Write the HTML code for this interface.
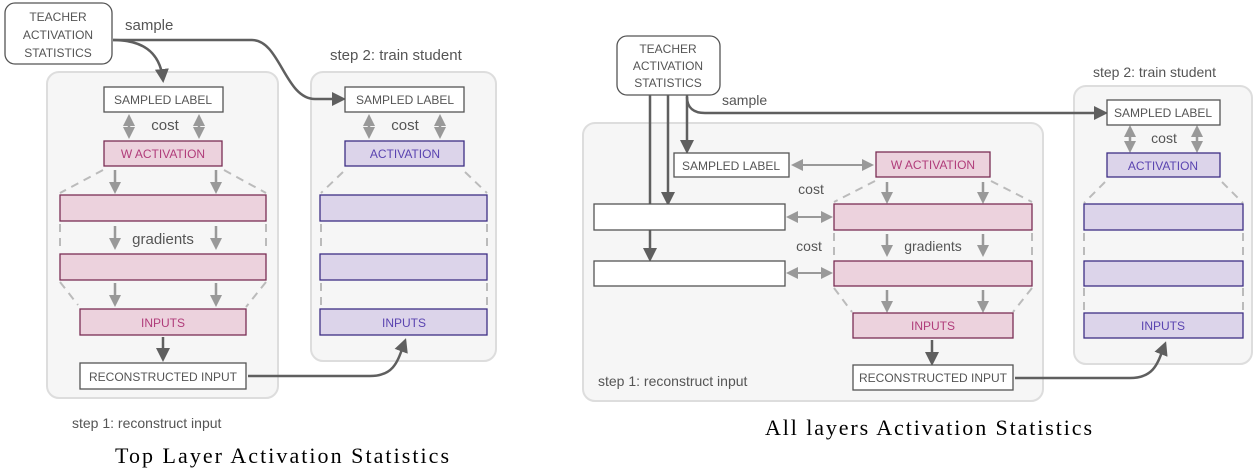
<!DOCTYPE html>
<html><head><meta charset="utf-8"><style>
html,body{margin:0;padding:0;background:#fff;}
svg{display:block;}
text{font-family:"Liberation Sans",sans-serif;}
</style></head><body>
<svg width="1253" height="469" viewBox="0 0 1253 469" xmlns="http://www.w3.org/2000/svg">
<defs>
<marker id="ad" markerWidth="14" markerHeight="14" refX="11" refY="7" orient="auto" markerUnits="userSpaceOnUse"><path d="M0,0 L14,7 L0,14 z" fill="#5f5f5f"/></marker>
<marker id="ag" markerWidth="12" markerHeight="12" refX="9" refY="6" orient="auto" markerUnits="userSpaceOnUse"><path d="M0,0 L12,6 L0,12 z" fill="#999"/></marker>
<marker id="ags" markerWidth="12" markerHeight="12" refX="3" refY="6" orient="auto" markerUnits="userSpaceOnUse"><path d="M12,0 L0,6 L12,12 z" fill="#999"/></marker>
</defs>
<g font-size="12" fill="#555">
<!-- LEFT -->
<rect x="47" y="72" width="231" height="326" rx="12" fill="#f6f6f6" stroke="#ddd" stroke-width="2"/>
<rect x="311" y="72" width="185" height="289" rx="12" fill="#f6f6f6" stroke="#ddd" stroke-width="2"/>
<rect x="5" y="3" width="107" height="61" rx="10" fill="#fff" stroke="#555" stroke-width="1.3"/>
<text x="58" y="21" text-anchor="middle">TEACHER</text>
<text x="58" y="39" text-anchor="middle">ACTIVATION</text>
<text x="58" y="57" text-anchor="middle">STATISTICS</text>
<text x="125" y="30" font-size="15">sample</text>
<text x="330" y="60" font-size="15">step 2: train student</text>
<path d="M113,40 C140,40 160,50 163,80" fill="none" stroke="#5f5f5f" stroke-width="2.5" marker-end="url(#ad)"/>
<path d="M113,40 L252,40 C280,40 285,99 315,99 L343,99" fill="none" stroke="#5f5f5f" stroke-width="2.5" marker-end="url(#ad)"/>
<rect x="104" y="87" width="119" height="25" fill="#fff" stroke="#555" stroke-width="1.3"/>
<text x="163" y="104" text-anchor="middle">SAMPLED LABEL</text>
<text x="165" y="130" text-anchor="middle" font-size="15">cost</text>
<g stroke="#999" stroke-width="2.5" fill="none">
<path d="M129,117 L129,136" marker-end="url(#ag)" marker-start="url(#ags)"/>
<path d="M199,117 L199,136" marker-end="url(#ag)" marker-start="url(#ags)"/>
<path d="M369,117 L369,136" marker-end="url(#ag)" marker-start="url(#ags)"/>
<path d="M440,117 L440,136" marker-end="url(#ag)" marker-start="url(#ags)"/>
<path d="M115,170 L115,191" marker-end="url(#ag)"/><path d="M216,170 L216,191" marker-end="url(#ag)"/>
<path d="M115,226 L115,247" marker-end="url(#ag)"/><path d="M216,226 L216,247" marker-end="url(#ag)"/>
<path d="M115,283 L115,304" marker-end="url(#ag)"/><path d="M216,283 L216,304" marker-end="url(#ag)"/>
</g>
<g stroke="#bbb" stroke-width="2" stroke-dasharray="8,6" fill="none">
<path d="M103,170 L60,193 M224,170 L266,193 M60,224 L60,252 M266,224 L266,252 M60,282 L78,305 M266,282 L246,307"/>
<path d="M343,172 L321,193 M465,172 L487,193 M321,224 L321,252 M487,224 L487,252 M321,283 L321,307 M487,283 L487,307"/>
</g>
<rect x="104" y="141" width="118" height="25" fill="#ecd2dd" stroke="#7a2e55" stroke-width="1.3"/>
<text x="163" y="158" text-anchor="middle" fill="#b03c7a">W ACTIVATION</text>
<rect x="60" y="195" width="206" height="26" fill="#ecd2dd" stroke="#7a2e55" stroke-width="1.3"/>
<text x="163" y="244" text-anchor="middle" font-size="15">gradients</text>
<rect x="60" y="254" width="206" height="26" fill="#ecd2dd" stroke="#7a2e55" stroke-width="1.3"/>
<rect x="80" y="309" width="166" height="26" fill="#ecd2dd" stroke="#7a2e55" stroke-width="1.3"/>
<text x="163" y="327" text-anchor="middle" fill="#b03c7a">INPUTS</text>
<path d="M163,337 L163,359" stroke="#5f5f5f" stroke-width="2.5" marker-end="url(#ad)"/>
<rect x="80" y="363" width="166" height="26" fill="#fff" stroke="#555" stroke-width="1.3"/>
<text x="163" y="381" text-anchor="middle">RECONSTRUCTED INPUT</text>
<path d="M248,376 L370,376 C395,376 398,360 405,341" fill="none" stroke="#5f5f5f" stroke-width="2.5" marker-end="url(#ad)"/>
<rect x="345" y="87" width="119" height="25" fill="#fff" stroke="#555" stroke-width="1.3"/>
<text x="405" y="104" text-anchor="middle">SAMPLED LABEL</text>
<text x="405" y="130" text-anchor="middle" font-size="15">cost</text>
<rect x="345" y="141" width="119" height="25" fill="#dcd4ea" stroke="#3e2f85" stroke-width="1.3"/>
<text x="405" y="158" text-anchor="middle" fill="#5a44b0">ACTIVATION</text>
<rect x="320" y="195" width="167" height="26" fill="#dcd4ea" stroke="#3e2f85" stroke-width="1.3"/>
<rect x="320" y="254" width="167" height="26" fill="#dcd4ea" stroke="#3e2f85" stroke-width="1.3"/>
<rect x="320" y="309" width="167" height="26" fill="#dcd4ea" stroke="#3e2f85" stroke-width="1.3"/>
<text x="404" y="327" text-anchor="middle" fill="#5a44b0">INPUTS</text>
<text x="72" y="428" font-size="14">step 1: reconstruct input</text>

<!-- RIGHT -->
<rect x="583" y="123" width="460" height="278" rx="12" fill="#f6f6f6" stroke="#ddd" stroke-width="2"/>
<rect x="1074" y="86" width="178" height="278" rx="12" fill="#f6f6f6" stroke="#ddd" stroke-width="2"/>
<text x="1093" y="77" font-size="14">step 2: train student</text>
<rect x="617" y="36" width="103" height="59" rx="10" fill="#fff" stroke="#555" stroke-width="1.3"/>
<text x="668" y="53" text-anchor="middle">TEACHER</text>
<text x="668" y="70" text-anchor="middle">ACTIVATION</text>
<text x="668" y="87" text-anchor="middle">STATISTICS</text>
<text x="722" y="105" font-size="14">sample</text>
<g stroke="#5f5f5f" stroke-width="2.5" fill="none">
<path d="M650,95 L650,204"/>
<path d="M650,230 L650,259" marker-end="url(#ad)"/>
<path d="M668,95 L668,203" marker-end="url(#ad)"/>
<path d="M687,95 L687,151" marker-end="url(#ad)"/>
<path d="M687,97 C687,108 694,113 705,113 L1105,113" marker-end="url(#ad)"/>
<path d="M932,340 L932,363" marker-end="url(#ad)"/>
<path d="M1015,378 L1130,378 C1155,378 1158,362 1165,344" marker-end="url(#ad)"/>
</g>
<rect x="674" y="153" width="115" height="24" fill="#fff" stroke="#555" stroke-width="1.3"/>
<text x="731" y="170" text-anchor="middle">SAMPLED LABEL</text>
<text x="811" y="194" text-anchor="middle" font-size="14">cost</text>
<text x="809" y="251" text-anchor="middle" font-size="14">cost</text>
<rect x="594" y="204" width="191" height="26" fill="#fff" stroke="#555" stroke-width="1.3"/>
<rect x="594" y="261" width="191" height="25" fill="#fff" stroke="#555" stroke-width="1.3"/>
<g stroke="#999" stroke-width="2" fill="none">
<path d="M794,165 L871,165" marker-end="url(#ag)" marker-start="url(#ags)"/>
<path d="M789,217 L830,217" marker-end="url(#ag)" marker-start="url(#ags)"/>
<path d="M789,273 L830,273" marker-end="url(#ag)" marker-start="url(#ags)"/>
</g>
<g stroke="#999" stroke-width="2.5" fill="none">
<path d="M887,182 L887,201" marker-end="url(#ag)"/><path d="M983,182 L983,201" marker-end="url(#ag)"/>
<path d="M887,234 L887,254" marker-end="url(#ag)"/><path d="M983,234 L983,254" marker-end="url(#ag)"/>
<path d="M887,290 L887,310" marker-end="url(#ag)"/><path d="M983,290 L983,310" marker-end="url(#ag)"/>
<path d="M1130,128 L1130,150" marker-end="url(#ag)" marker-start="url(#ags)"/>
<path d="M1197,128 L1197,150" marker-end="url(#ag)" marker-start="url(#ags)"/>
</g>
<g stroke="#bbb" stroke-width="2" stroke-dasharray="8,6" fill="none">
<path d="M875,181 L834,202 M991,181 L1032,202 M834,233 L834,259 M1032,233 L1032,259 M834,288 L852,312 M1032,288 L1013,312"/>
<path d="M1105,182 L1084,203 M1222,182 L1243,203 M1084,233 L1084,259 M1243,233 L1243,259 M1084,288 L1084,311 M1243,288 L1243,311"/>
</g>
<rect x="876" y="152" width="114" height="25" fill="#ecd2dd" stroke="#7a2e55" stroke-width="1.3"/>
<text x="933" y="169" text-anchor="middle" fill="#b03c7a">W ACTIVATION</text>
<rect x="834" y="204" width="198" height="26" fill="#ecd2dd" stroke="#7a2e55" stroke-width="1.3"/>
<text x="933" y="251" text-anchor="middle" font-size="14">gradients</text>
<rect x="834" y="261" width="198" height="25" fill="#ecd2dd" stroke="#7a2e55" stroke-width="1.3"/>
<rect x="853" y="313" width="160" height="25" fill="#ecd2dd" stroke="#7a2e55" stroke-width="1.3"/>
<text x="933" y="330" text-anchor="middle" fill="#b03c7a">INPUTS</text>
<rect x="853" y="365" width="160" height="25" fill="#fff" stroke="#555" stroke-width="1.3"/>
<text x="933" y="382" text-anchor="middle">RECONSTRUCTED INPUT</text>
<text x="598" y="386" font-size="14">step 1: reconstruct input</text>
<rect x="1107" y="100" width="113" height="25" fill="#fff" stroke="#555" stroke-width="1.3"/>
<text x="1163" y="117" text-anchor="middle">SAMPLED LABEL</text>
<text x="1164" y="143" text-anchor="middle" font-size="14">cost</text>
<rect x="1107" y="153" width="113" height="24" fill="#dcd4ea" stroke="#3e2f85" stroke-width="1.3"/>
<text x="1163" y="170" text-anchor="middle" fill="#5a44b0">ACTIVATION</text>
<rect x="1084" y="204" width="159" height="26" fill="#dcd4ea" stroke="#3e2f85" stroke-width="1.3"/>
<rect x="1084" y="261" width="159" height="25" fill="#dcd4ea" stroke="#3e2f85" stroke-width="1.3"/>
<rect x="1084" y="313" width="159" height="25" fill="#dcd4ea" stroke="#3e2f85" stroke-width="1.3"/>
<text x="1163" y="330" text-anchor="middle" fill="#5a44b0">INPUTS</text>
</g>
<text x="115" y="463" font-size="22" fill="#000" textLength="334" lengthAdjust="spacing" style="font-family:'Liberation Serif',serif">Top Layer Activation Statistics</text>
<text x="765" y="435" font-size="22" fill="#000" textLength="327" lengthAdjust="spacing" style="font-family:'Liberation Serif',serif">All layers Activation Statistics</text>
</svg>
</body></html>
